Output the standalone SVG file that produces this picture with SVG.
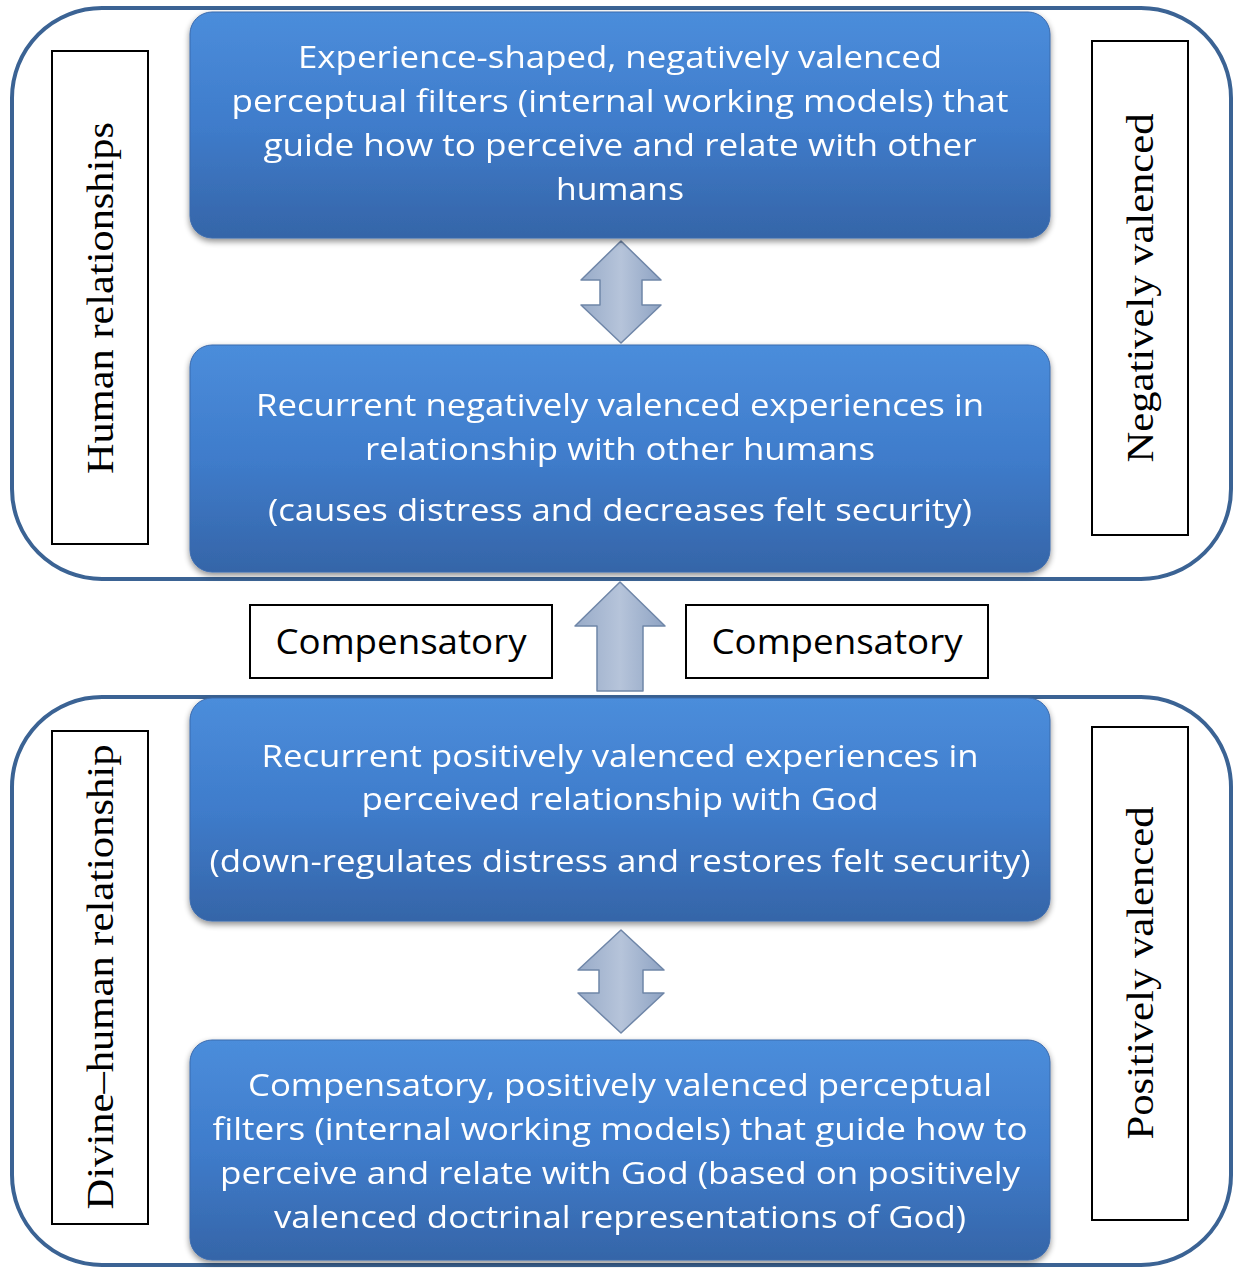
<svg xmlns="http://www.w3.org/2000/svg" width="1233" height="1268" viewBox="0 0 1233 1268">
<defs>
<linearGradient id="gBox" x1="0" y1="0" x2="0" y2="1">
<stop offset="0" stop-color="#4b8ddb"/>
<stop offset="0.5" stop-color="#3f7ccb"/>
<stop offset="1" stop-color="#3565a8"/>
</linearGradient>
<linearGradient id="gArr" x1="0" y1="0" x2="1" y2="0">
<stop offset="0" stop-color="#98abc8"/>
<stop offset="0.5" stop-color="#b6c4da"/>
<stop offset="1" stop-color="#8ea3c3"/>
</linearGradient>
<filter id="sh" x="-5%" y="-5%" width="110%" height="115%">
<feGaussianBlur in="SourceAlpha" stdDeviation="3"/>
<feOffset dx="0" dy="3" result="b"/>
<feComponentTransfer><feFuncA type="linear" slope="0.45"/></feComponentTransfer>
<feMerge><feMergeNode/><feMergeNode in="SourceGraphic"/></feMerge>
</filter>
</defs>
<style>
.cont{fill:none;stroke:#3b6394;stroke-width:4}
.box{fill:url(#gBox);stroke:#3a6aad;stroke-width:1}
.bt{font-family:"Open Sans","Liberation Sans",sans-serif;font-size:31px;fill:#ffffff;text-anchor:middle}
.lab{fill:#ffffff;stroke:#000000;stroke-width:2}
.lt{font-family:"Open Sans","Liberation Sans",sans-serif;font-size:34px;fill:#000000;text-anchor:middle}
.st{font-family:"Liberation Serif","Times New Roman",serif;font-size:38px;fill:#000000;text-anchor:middle}
.arr{fill:url(#gArr);stroke:#6f86a8;stroke-width:1.5;stroke-linejoin:round}
</style>
<rect width="1233" height="1268" fill="#ffffff"/>
<g id="containers">
<rect class="cont" x="12" y="8" width="1219" height="571" rx="90"/>
<rect class="cont" x="12" y="697" width="1219" height="568" rx="90"/>
</g>
<g id="labels">
<g id="lab-human"><rect class="lab" x="52" y="51" width="96" height="493"/><text class="st" transform="translate(113,298) rotate(-90)" textLength="352" lengthAdjust="spacingAndGlyphs">Human relationships</text></g>
<g id="lab-neg"><rect class="lab" x="1092" y="41" width="96" height="494"/><text class="st" transform="translate(1153,288) rotate(-90)" textLength="349" lengthAdjust="spacingAndGlyphs">Negatively valenced</text></g>
<g id="lab-divine"><rect class="lab" x="52" y="731" width="96" height="493"/><text class="st" transform="translate(113,977) rotate(-90)" textLength="465" lengthAdjust="spacingAndGlyphs">Divine–human relationship</text></g>
<g id="lab-pos"><rect class="lab" x="1092" y="727" width="96" height="493"/><text class="st" transform="translate(1153,973) rotate(-90)" textLength="333" lengthAdjust="spacingAndGlyphs">Positively valenced</text></g>
<g id="comp-left"><rect class="lab" x="250" y="605" width="302" height="73"/><text class="lt" x="401" y="654" textLength="251" lengthAdjust="spacingAndGlyphs">Compensatory</text></g>
<g id="comp-right"><rect class="lab" x="686" y="605" width="302" height="73"/><text class="lt" x="837" y="654" textLength="251" lengthAdjust="spacingAndGlyphs">Compensatory</text></g>
</g>
<g id="connectors">
<path class="arr" d="M621,241 L661,280 L642,280 L642,305 L661,305 L621,343 L581,305 L600,305 L600,280 L581,280 Z"/>
<path class="arr" d="M621,930 L664,970 L643,970 L643,993 L664,993 L621,1033 L578,993 L599,993 L599,970 L578,970 Z"/>
<path class="arr" d="M620,582 L665,626 L643,626 L643,691 L597,691 L597,626 L575,626 Z"/>
</g>
<g id="box1" filter="url(#sh)">
<rect class="box" x="190" y="12" width="860" height="226" rx="22"/>
<text class="bt" x="620" y="68" textLength="644" lengthAdjust="spacingAndGlyphs">Experience-shaped, negatively valenced</text>
<text class="bt" x="620" y="112" textLength="777" lengthAdjust="spacingAndGlyphs">perceptual filters (internal working models) that</text>
<text class="bt" x="620" y="156" textLength="713" lengthAdjust="spacingAndGlyphs">guide how to perceive and relate with other</text>
<text class="bt" x="620" y="200" textLength="128" lengthAdjust="spacingAndGlyphs">humans</text>
</g>
<g id="box2" filter="url(#sh)">
<rect class="box" x="190" y="345" width="860" height="227" rx="22"/>
<text class="bt" x="620" y="416" textLength="728" lengthAdjust="spacingAndGlyphs">Recurrent negatively valenced experiences in</text>
<text class="bt" x="620" y="460" textLength="510" lengthAdjust="spacingAndGlyphs">relationship with other humans</text>
<text class="bt" x="620" y="521" textLength="704" lengthAdjust="spacingAndGlyphs">(causes distress and decreases felt security)</text>
</g>
<g id="box3" filter="url(#sh)">
<rect class="box" x="190" y="698" width="860" height="223" rx="22"/>
<text class="bt" x="620" y="767" textLength="717" lengthAdjust="spacingAndGlyphs">Recurrent positively valenced experiences in</text>
<text class="bt" x="620" y="810" textLength="517" lengthAdjust="spacingAndGlyphs">perceived relationship with God</text>
<text class="bt" x="620" y="872" textLength="821" lengthAdjust="spacingAndGlyphs">(down-regulates distress and restores felt security)</text>
</g>
<g id="box4" filter="url(#sh)">
<rect class="box" x="190" y="1040" width="860" height="220" rx="22"/>
<text class="bt" x="620" y="1096" textLength="744" lengthAdjust="spacingAndGlyphs">Compensatory, positively valenced perceptual</text>
<text class="bt" x="620" y="1140" textLength="815" lengthAdjust="spacingAndGlyphs">filters (internal working models) that guide how to</text>
<text class="bt" x="620" y="1184" textLength="800" lengthAdjust="spacingAndGlyphs">perceive and relate with God (based on positively</text>
<text class="bt" x="620" y="1228" textLength="692" lengthAdjust="spacingAndGlyphs">valenced doctrinal representations of God)</text>
</g>
</svg>
